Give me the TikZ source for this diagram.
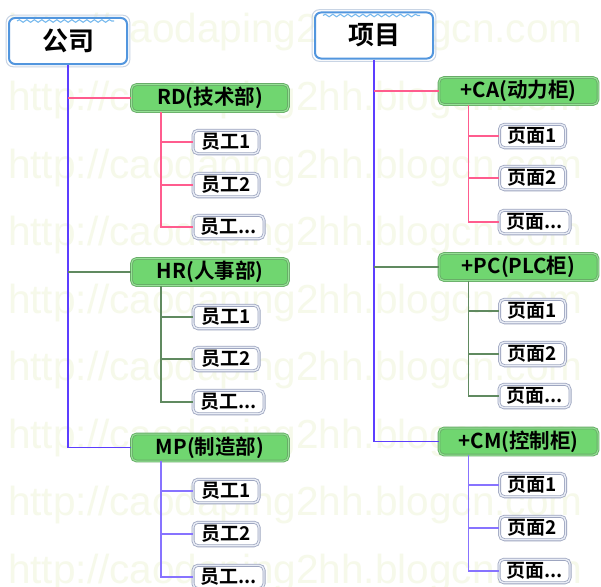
\documentclass[tikz,border=0pt]{standalone}
\usepackage{fontspec}
\setmainfont{Noto Sans CJK SC}[BoldFont={Noto Sans CJK SC Bold}]
\newfontfamily\wmfont{Liberation Sans}
\usetikzlibrary{decorations.pathmorphing}
\definecolor{trunkc}{RGB}{92,62,255}
\definecolor{pinkc}{RGB}{255,92,142}
\definecolor{greenc}{RGB}{96,138,96}
\definecolor{purpc}{RGB}{135,115,255}
\definecolor{boxgreen}{RGB}{112,214,112}
\definecolor{boxgreenb}{RGB}{104,172,104}
\definecolor{boxgreeni}{RGB}{150,226,150}
\definecolor{leafb}{RGB}{158,166,192}
\definecolor{leafi}{RGB}{232,236,245}
\definecolor{rootb}{RGB}{82,150,222}
\definecolor{rooto}{RGB}{200,212,228}
\definecolor{wavec}{RGB}{120,186,238}
\definecolor{wmc}{RGB}{246,249,234}
\tikzset{
  rootbox/.style={draw=rootb, line width=2pt, fill=white, rounded corners=6pt,
    minimum width=118pt, minimum height=46pt, inner sep=0pt,
    font=\bfseries\fontsize{26pt}{26pt}\selectfont},
  rootshadow/.style={draw=rooto, line width=1pt, rounded corners=7pt},
  branchbox/.style={draw=boxgreenb, double=boxgreeni, double distance=1pt, line width=0.9pt,
    fill=boxgreen, rounded corners=5pt, minimum width=157pt, minimum height=27pt, inner sep=0pt,
    font=\bfseries\fontsize{20.5pt}{20.5pt}\selectfont},
  leafbox/.style={draw=leafb, double=leafi, double distance=1.4pt, line width=0.8pt,
    fill=white, rounded corners=5pt, minimum width=66pt, minimum height=23.5pt, inner sep=0pt,
    font=\bfseries\fontsize{19pt}{19pt}\selectfont},
  leafwide/.style={leafbox, minimum width=71pt},
  trunkline/.style={draw=trunkc, line width=1.8pt},
  pinkline/.style={draw=pinkc, line width=1.7pt},
  greenline/.style={draw=greenc, line width=1.6pt},
  purpline/.style={draw=purpc, line width=1.6pt},
  wavy/.style={draw=wavec, line width=1.1pt, decorate,
    decoration={snake, amplitude=1.3pt, segment length=7.5pt}},
  wmtext/.style={anchor=base west, inner sep=0pt, text=wmc,
    font=\wmfont\fontsize{40.5pt}{40.5pt}\selectfont}
}
\begin{document}
\begin{tikzpicture}[x=1pt, y=-1pt]
\useasboundingbox (0,0) rectangle (601,586);
\fill[white] (0,0) rectangle (601,586);
% watermark
\foreach \b [count=\i] in {43,110.5,178,245.5,313,380.5,448,515.5,583}
  \node[wmtext] (wm\i) at (8,\b) {http://caodaping2hh.blogcn.com};

% roots
\node[rootbox] (gs) at (68,41) {公司};
\node[rootbox] (xm) at (374,35.5) {项目};
\draw[rootshadow] ([shift={(-1.8pt,1.8pt)}]gs.north west) rectangle ([shift={(1.8pt,-1.8pt)}]gs.south east);
\draw[rootshadow] ([shift={(-1.8pt,1.8pt)}]xm.north west) rectangle ([shift={(1.8pt,-1.8pt)}]xm.south east);
\draw[wavy] ([shift={(9pt,-4pt)}]gs.north west) -- ([shift={(-14pt,-4pt)}]gs.north east);
\draw[wavy] ([shift={(9pt,-4pt)}]xm.north west) -- ([shift={(-14pt,-4pt)}]xm.north east);

% branches
\node[branchbox] (rd) at (210,98) {RD(技术部)};
\node[branchbox] (hr) at (210,272) {HR(人事部)};
\node[branchbox] (mp) at (210,447.5) {MP(制造部)};
\node[branchbox, minimum width=159pt] (ca) at (518.5,91) {+CA(动力柜)};
\node[branchbox, minimum width=159pt] (pc) at (518.5,267) {+PC(PLC柜)};
\node[branchbox, minimum width=159pt] (cm) at (518.5,441.5) {+CM(控制柜)};

% leaves left
\node[leafbox] (rd1) at (226,142) {员工1};
\node[leafbox] (rd2) at (226,185) {员工2};
\node[leafwide] (rd3) at (228.5,227) {员工...};
\node[leafbox] (hr1) at (226,317) {员工1};
\node[leafbox] (hr2) at (226,359) {员工2};
\node[leafwide] (hr3) at (228.5,402) {员工...};
\node[leafbox] (mp1) at (226,491) {员工1};
\node[leafbox] (mp2) at (226,534) {员工2};
\node[leafwide] (mp3) at (228.5,577) {员工...};
% leaves right
\node[leafbox] (ca1) at (532.5,136) {页面1};
\node[leafbox] (ca2) at (532.5,178) {页面2};
\node[leafwide] (ca3) at (534.5,222) {页面...};
\node[leafbox] (pc1) at (532.5,311) {页面1};
\node[leafbox] (pc2) at (532.5,354) {页面2};
\node[leafwide] (pc3) at (534.5,396) {页面...};
\node[leafbox] (cm1) at (532.5,485) {页面1};
\node[leafbox] (cm2) at (532.5,528) {页面2};
\node[leafwide] (cm3) at (534.5,571) {页面...};

% trunks
\draw[trunkline] (gs.south) |- (mp.west);
\draw[pinkline] (gs.south |- rd.west) -- (rd.west);
\draw[greenline] (gs.south |- hr.west) -- (hr.west);
\draw[trunkline] (xm.south) |- (cm.west);
\draw[pinkline] (xm.south |- ca.west) -- (ca.west);
\draw[greenline] (xm.south |- pc.west) -- (pc.west);

% children connectors
\foreach \p/\s in {rd/pinkline, hr/greenline, mp/purpline, ca/pinkline, pc/greenline, cm/purpline}{
  \draw[\s] ([xshift=30pt]\p.south west) |- (\p3.west);
  \draw[\s] ([xshift=30pt]\p.south west |- \p1.west) -- (\p1.west);
  \draw[\s] ([xshift=30pt]\p.south west |- \p2.west) -- (\p2.west);
}
\end{tikzpicture}
\end{document}
